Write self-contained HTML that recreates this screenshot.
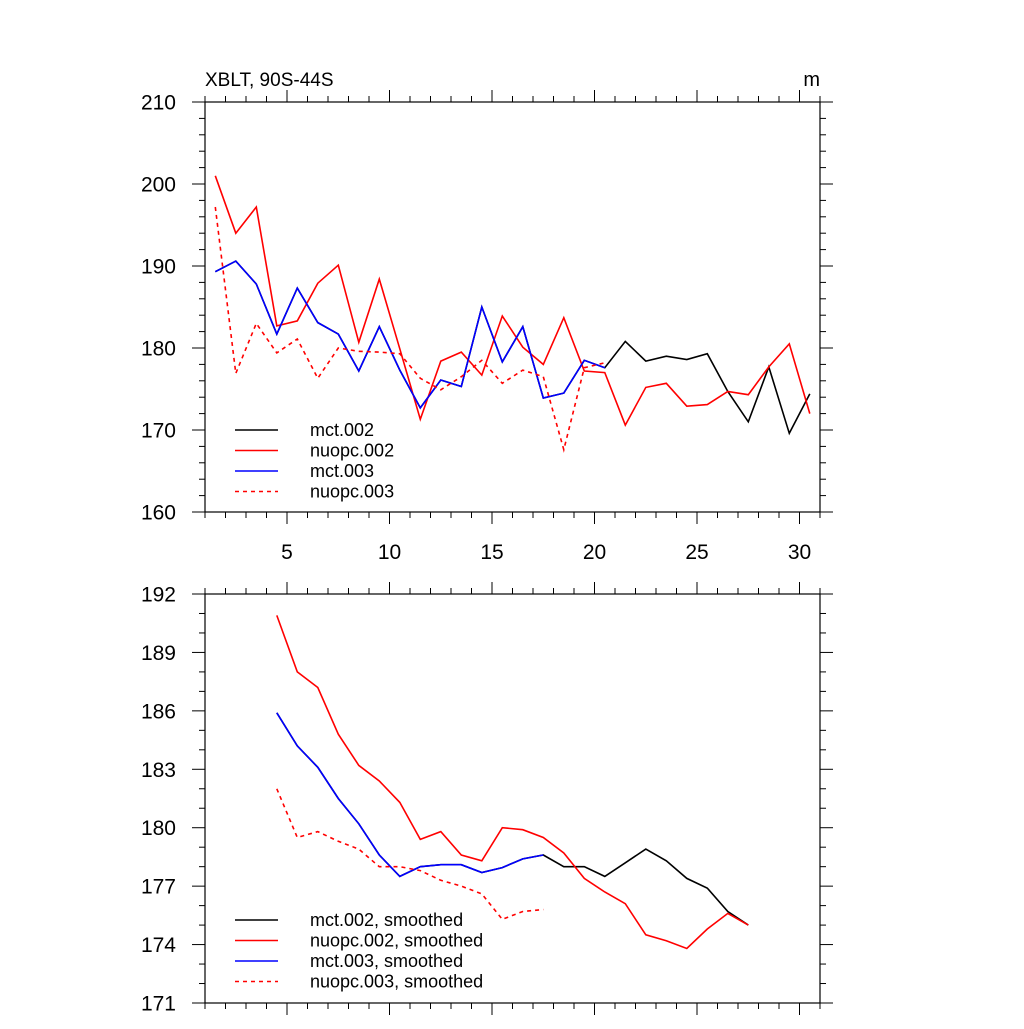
<!DOCTYPE html>
<html><head><meta charset="utf-8"><style>
body{margin:0;background:#fff}
svg{font-family:"Liberation Sans",sans-serif}
</style></head><body>
<svg id="c" width="1024" height="1024" viewBox="0 0 1024 1024" xmlns="http://www.w3.org/2000/svg"></svg>
<script>
const years = [1.5,2.5,3.5,4.5,5.5,6.5,7.5,8.5,9.5,10.5,11.5,12.5,13.5,14.5,15.5,16.5,17.5,18.5,19.5,20.5,21.5,22.5,23.5,24.5,25.5,26.5,27.5,28.5,29.5,30.5];
const mct002 = [189.3,190.6,187.8,181.7,187.3,183.1,181.7,177.2,182.6,177.3,172.7,176.1,175.3,185.0,178.3,182.6,173.9,174.5,178.5,177.6,180.8,178.4,179.0,178.6,179.3,174.7,171.0,177.7,169.6,174.4];
const nuopc002 = [201.0,194.0,197.2,182.7,183.3,187.9,190.1,180.7,188.4,179.9,171.3,178.4,179.5,176.7,183.9,180.1,178.0,183.7,177.2,177.0,170.6,175.2,175.7,172.9,173.1,174.7,174.3,177.7,180.5,172.0];
const mct003 = [189.3,190.6,187.8,181.7,187.3,183.1,181.7,177.2,182.6,177.3,172.7,176.1,175.3,185.0,178.3,182.6,173.9,174.5,178.5,177.6];
const nuopc003 = [197.2,176.9,183.0,179.4,181.1,176.3,180.0,179.6,179.5,179.3,176.3,174.9,176.5,178.5,175.7,177.3,176.5,167.6,177.6,178.2];
const sYears = [4.5,5.5,6.5,7.5,8.5,9.5,10.5,11.5,12.5,13.5,14.5,15.5,16.5,17.5,18.5,19.5,20.5,21.5,22.5,23.5,24.5,25.5,26.5,27.5];
const mct002s = [185.9,184.2,183.1,181.5,180.2,178.6,177.5,178.0,178.1,178.1,177.7,177.95,178.4,178.6,178.0,178.0,177.5,178.2,178.9,178.3,177.4,176.9,175.7,175.0];
const nuopc002s = [190.9,188.0,187.2,184.8,183.2,182.4,181.3,179.4,179.8,178.6,178.3,180.0,179.9,179.5,178.7,177.4,176.7,176.1,174.5,174.2,173.8,174.8,175.6,175.0];
const mct003s = [185.9,184.2,183.1,181.5,180.2,178.6,177.5,178.0,178.1,178.1,177.7,177.95,178.4,178.6];
const nuopc003s = [182.0,179.5,179.8,179.3,178.9,178.0,178.0,177.8,177.3,177.0,176.6,175.3,175.7,175.8];
const xTickLabels = [5,10,15,20,25,30];
const topYTicks = [160,170,180,190,200,210];
const botYTicks = [171,174,177,180,183,186,189,192];

const NS="http://www.w3.org/2000/svg";
const svg=document.getElementById('c');
function mk(tag,attrs,parent){const e=document.createElementNS(NS,tag);for(const k in attrs)e.setAttribute(k,attrs[k]);(parent||svg).appendChild(e);return e;}
const L=205,R=820;
const xs=v=>L+(v-1)*(R-L)/30;

function panel(name,T,B,y0,y1,yticks,yminor,labelsX,series,legendY,legendNames){
  const g=mk('g',{});
  
  
  const ys=v=>B-(v-y0)*(B-T)/(y1-y0);
  series.forEach((s,i)=>{
    const pts=s.x.map((xv,j)=>xs(xv).toFixed(1)+','+ys(s.y[j]).toFixed(1)).join(' ');
    const p=mk('polyline',{points:pts,fill:'none',stroke:s.c,'stroke-width':1.6,'stroke-dasharray':s.d?'4,4':'none'},g);
    
    
  });
  const f=mk('rect',{x:L,y:T,width:R-L,height:B-T,fill:'none',stroke:'#000','stroke-width':1.2},g);
  
  
  for(let v=1;v<=31;v++){
    const major=v%5===0, len=major?12:6, x=xs(v);
    mk('line',{x1:x,y1:B,x2:x,y2:B+len,stroke:'#000','stroke-width':1},g);
    mk('line',{x1:x,y1:T,x2:x,y2:T-len,stroke:'#000','stroke-width':1},g);
  }
  if(labelsX){
    xTickLabels.forEach(v=>{
      const t=mk('text',{x:xs(v),y:B+47,'font-size':21,'text-anchor':'middle'},g);t.textContent=v;
      
      
    });
  }
  for(let v=y0;v<=y1+1e-6;v+=yminor){
    const major=yticks.some(t=>Math.abs(t-v)<1e-6), len=major?13:6, y=ys(v);
    mk('line',{x1:L,y1:y,x2:L-len,y2:y,stroke:'#000','stroke-width':1},g);
    mk('line',{x1:R,y1:y,x2:R+len,y2:y,stroke:'#000','stroke-width':1},g);
  }
  yticks.forEach(v=>{
    const t=mk('text',{x:L-29,y:ys(v)+7.5,'font-size':21,'text-anchor':'end'},g);t.textContent=v;
    
    
  });
  series.forEach((s,i)=>{
    const y=legendY+i*20.5;
    const ln=mk('line',{x1:235,y1:y,x2:278,y2:y,stroke:s.c,'stroke-width':1.6,'stroke-dasharray':s.d?'4,4':'none'},g);
    
    
    const t=mk('text',{x:310,y:y+6,'font-size':18},g);t.textContent=legendNames[i];
    
    
  });
}

panel('top-panel',102,512,160,210,topYTicks,2,true,[
  {x:years,y:mct002,c:'#000',n:'line-mct002'},
  {x:years,y:nuopc002,c:'#f00',n:'line-nuopc002'},
  {x:years.slice(0,mct003.length),y:mct003,c:'#00f',n:'line-mct003'},
  {x:years.slice(0,nuopc003.length),y:nuopc003,c:'#f00',d:true,n:'line-nuopc003'}
],430,['mct.002','nuopc.002','mct.003','nuopc.003']);

panel('bottom-panel',594,1003,171,192,botYTicks,1,false,[
  {x:sYears,y:mct002s,c:'#000',n:'line-mct002-smoothed'},
  {x:sYears,y:nuopc002s,c:'#f00',n:'line-nuopc002-smoothed'},
  {x:sYears.slice(0,mct003s.length),y:mct003s,c:'#00f',n:'line-mct003-smoothed'},
  {x:sYears.slice(0,nuopc003s.length),y:nuopc003s,c:'#f00',d:true,n:'line-nuopc003-smoothed'}
],920,['mct.002, smoothed','nuopc.002, smoothed','mct.003, smoothed','nuopc.003, smoothed']);

const title=mk('text',{x:205,y:86,'font-size':19});title.textContent='XBLT, 90S-44S';


const unit=mk('text',{x:820,y:86,'font-size':20,'text-anchor':'end'});unit.textContent='m';


</script>
</body></html>
